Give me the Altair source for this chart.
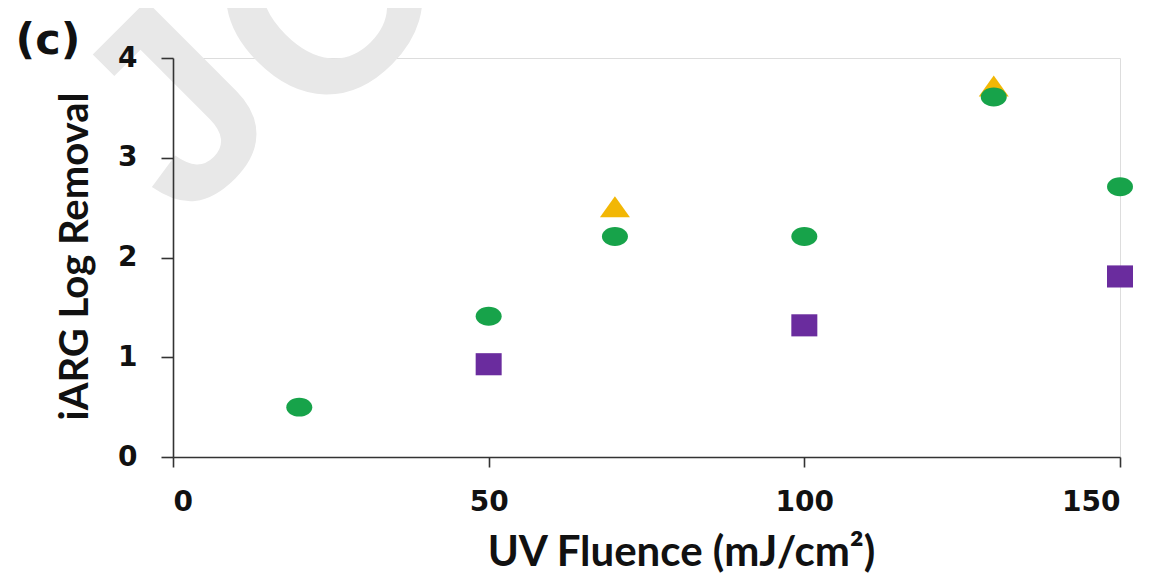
import altair as alt
import pandas as pd

green_x = [20, 50, 70, 100, 130, 150]
green_y = [0.5, 1.41, 2.21, 2.21, 3.61, 2.71]
purple_x = [50, 100, 150]
purple_y = [0.93, 1.32, 1.81]
yellow_x = [70, 130]
yellow_y = [2.51, 3.72]

df = pd.DataFrame(
    [{"x": a, "y": b, "s": "green"} for a, b in zip(green_x, green_y)]
    + [{"x": a, "y": b, "s": "purple"} for a, b in zip(purple_x, purple_y)]
    + [{"x": a, "y": b, "s": "yellow"} for a, b in zip(yellow_x, yellow_y)]
)

LFONT = "DejaVu Sans"
TFONT = "Lato"
xs = alt.Scale(domain=[0, 150], nice=False)
ys = alt.Scale(domain=[0, 4], nice=False)
common = dict(grid=False, labelFont=LFONT, labelFontSize=28, labelFontWeight="bold",
              labelColor="#111", titleFont=TFONT, titleFontWeight="bold", titleColor="#111",
              domainColor="#333", domainWidth=1.6, tickColor="#333", tickWidth=1.6, format="d",
              zindex=1)
xax = alt.Axis(values=[0, 50, 100, 150], title="UV Fluence (mJ/cm²)", tickSize=10,
               labelPadding=43, labelBaseline="alphabetic", titleFontSize=42,
               titleX=508, titleY=108, titleBaseline="alphabetic", titleAlign="center", **common)
yax = alt.Axis(values=[0, 1, 2, 3, 4], title="iARG Log Removal", tickSize=12,
               labelPadding=24, titleFontSize=40, titleX=-98, titleY=198,
               titleBaseline="middle", titleAlign="center", titleAngle=270, **common)

ELLIPSE = "M -1 0 A 1 0.73 0 1 0 1 0 A 1 0.73 0 1 0 -1 0 Z"
RECT = "M -1 -0.85 L 1 -0.85 L 1 0.85 L -1 0.85 Z"
TRI = "M 0 -0.7 L 1 0.7 L -1 0.7 Z"

base = alt.Chart(df)
green = base.transform_filter(alt.datum.s == "green").mark_point(
    shape=ELLIPSE, filled=True, color="#17a34a", opacity=1, size=676
).encode(x=alt.X("x:Q", scale=xs, axis=xax), y=alt.Y("y:Q", scale=ys, axis=yax))
purple = base.transform_filter(alt.datum.s == "purple").mark_point(
    shape=RECT, filled=True, color="#6a2c9e", opacity=1, size=676
).encode(x=alt.X("x:Q", scale=xs), y=alt.Y("y:Q", scale=ys))
yellow = base.transform_filter(alt.datum.s == "yellow").mark_point(
    shape=TRI, filled=True, color="#f2b705", opacity=1, size=900
).encode(x=alt.X("x:Q", scale=xs), y=alt.Y("y:Q", scale=ys))

label = alt.Chart(pd.DataFrame({"t": ["(c)"]})).mark_text(
    font="DejaVu Sans", fontSize=43, fontWeight="bold", color="#111", align="center", baseline="middle"
).encode(text="t:N", x=alt.value(-125), y=alt.value(-17))

wm_style = dict(font="Liberation Sans", fontSize=270, fontWeight="bold", color="#e8e8e8",
                align="left", baseline="alphabetic", angle=315)
wm_j = alt.Chart(pd.DataFrame({"t": ["J"]})).mark_text(**wm_style).encode(
    text="t:N", x=alt.value(11.6), y=alt.value(167.4))
wm_o = alt.Chart(pd.DataFrame({"t": ["O"]})).mark_text(**wm_style).encode(
    text="t:N", x=alt.value(143.3), y=alt.value(78.2))

chart = alt.layer(wm_j, wm_o, yellow, green, purple, label).properties(
    width=947, height=399,
    autosize=alt.AutoSizeParams(type="none"),
    padding={"left": 165, "top": 50, "right": 30, "bottom": 126},
).configure_view(strokeWidth=0).configure(background="white")

chart.save("out.html", embed_options={"renderer": "svg", "actions": False})
